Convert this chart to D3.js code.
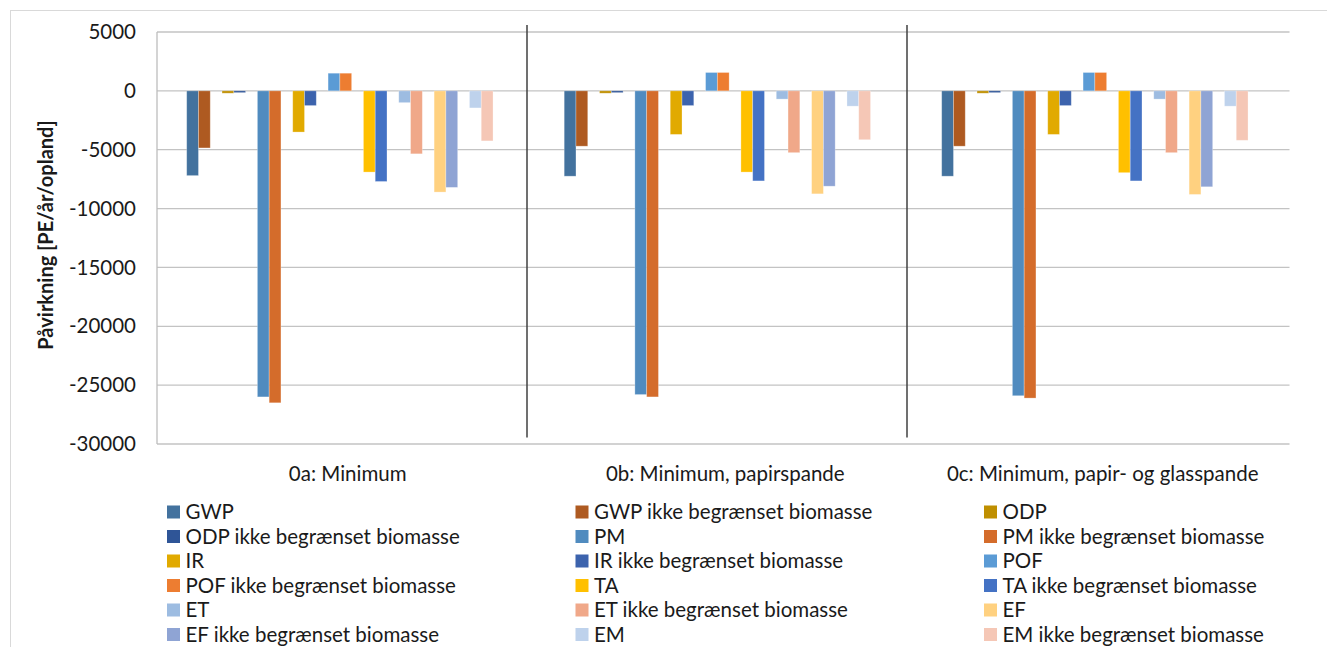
<!DOCTYPE html>
<html lang="da">
<head>
<meta charset="utf-8">
<title>Påvirkning</title>
<script src="https://d3js.org/d3.v7.min.js"></script>
<style>
  body { margin: 0; background: #fff; }
  svg text { font-family: Lato, "Open Sans", sans-serif; fill: #1a1a1a; }
  .tick-label { font-size: 20.5px; }
  .cat-label { font-size: 20.5px; }
  .legend-label { font-size: 20.5px; }
  .y-title { font-size: 20px; font-weight: bold; }
</style>
</head>
<body>
<svg id="chart" width="1327" height="647"></svg>
<script>
// categories (scenarios)
const categories = ["0a: Minimum", "0b: Minimum, papirspande", "0c: Minimum, papir- og glasspande"];

// impact series, in legend order
const series = [
  "GWP", "GWP ikke begrænset biomasse",
  "ODP", "ODP ikke begrænset biomasse",
  "PM", "PM ikke begrænset biomasse",
  "IR", "IR ikke begrænset biomasse",
  "POF", "POF ikke begrænset biomasse",
  "TA", "TA ikke begrænset biomasse",
  "ET", "ET ikke begrænset biomasse",
  "EF", "EF ikke begrænset biomasse",
  "EM", "EM ikke begrænset biomasse"
];

const colors = [
  "#43729e", "#ae5a21",
  "#bf8f00", "#2f5597",
  "#508bbf", "#d46c2b",
  "#e1aa00", "#3c63ad",
  "#5b9bd5", "#ed7d31",
  "#ffc000", "#4472c4",
  "#9dbce1", "#f0a889",
  "#ffd180", "#8fa4d4",
  "#bed2ec", "#f5c7b6"
];

// values per scenario, same order as series
const minimum     = [-7200, -4850, -200, -150, -26000, -26500, -3500, -1250, 1500, 1500, -6900, -7700, -1000, -5350, -8600, -8200, -1450, -4250];
const papir       = [-7250, -4700, -200, -150, -25800, -26000, -3700, -1250, 1560, 1560, -6900, -7650, -700, -5250, -8750, -8100, -1300, -4150];
const papirGlas   = [-7250, -4700, -200, -150, -25900, -26100, -3700, -1250, 1560, 1560, -6950, -7650, -700, -5250, -8800, -8150, -1300, -4200];
const scenarioValues = [minimum, papir, papirGlas];

const yTicks = [5000, 0, -5000, -10000, -15000, -20000, -25000, -30000];

const svg = d3.select("#chart");
const plot = { left: 157, right: 1289.5, top: 32, bottom: 444 };

// outer chart border
svg.append("rect")
  .attr("x", 10.5).attr("y", 10.5)
  .attr("width", 1340).attr("height", 660)
  .attr("fill", "none").attr("stroke", "#d9d9d9").attr("stroke-width", 1);

const x = d3.scaleBand().domain(categories).range([plot.left, plot.right]);
// each pair takes three slots (two bars and an empty one), 27 slots per group
const slotOf = i => Math.floor(i / 2) * 3 + (i % 2);
const xInner = d3.scaleBand().domain(d3.range(27)).range([0, x.bandwidth()]).paddingOuter(2.52);
const y = d3.scaleLinear().domain([-30000, 5000]).range([plot.bottom, plot.top]);

// gridlines
svg.append("g").selectAll("line").data(yTicks).join("line")
  .attr("x1", plot.left).attr("x2", plot.right)
  .attr("y1", d => y(d)).attr("y2", d => y(d))
  .attr("stroke", "#c3c3c3").attr("stroke-width", 1.3);

// left axis line
svg.append("line")
  .attr("x1", plot.left).attr("x2", plot.left)
  .attr("y1", y(5000)).attr("y2", y(-30000))
  .attr("stroke", "#bdbdbd").attr("stroke-width", 1.3);

// tick labels
svg.append("g").selectAll("text").data(yTicks).join("text")
  .attr("class", "tick-label")
  .attr("x", 136).attr("y", d => y(d))
  .attr("dy", "0.35em").attr("text-anchor", "end")
  .text(d => d);

// bars
const bars = [];
categories.forEach((c, ci) => {
  series.forEach((s, si) => bars.push({ cat: c, idx: si, value: scenarioValues[ci][si] }));
});
svg.append("g").selectAll("rect").data(bars).join("rect")
  .attr("x", d => x(d.cat) + xInner(slotOf(d.idx)))
  .attr("width", xInner.bandwidth())
  .attr("y", d => y(Math.max(0, d.value)))
  .attr("height", d => Math.abs(y(d.value) - y(0)))
  .attr("fill", d => colors[d.idx])
  .attr("stroke", "#fff").attr("stroke-opacity", 0.35).attr("stroke-width", 0.8);

// manual separators between scenarios
const sepOffsets = [-7.5, -5];
svg.append("g").selectAll("line").data(categories.slice(1)).join("line")
  .attr("x1", (d, i) => x(d) + sepOffsets[i]).attr("x2", (d, i) => x(d) + sepOffsets[i])
  .attr("y1", 25).attr("y2", 437.5)
  .attr("stroke", "#404040").attr("stroke-width", 1.5);

// category labels
svg.append("g").selectAll("text").data(categories).join("text")
  .attr("class", "cat-label")
  .attr("x", d => x(d) + x.bandwidth() / 2 + 2).attr("y", 474)
  .attr("dy", "0.35em").attr("text-anchor", "middle")
  .text(d => d);

// y title
svg.append("text")
  .attr("class", "y-title")
  .attr("transform", "translate(45.5,235) rotate(-90)")
  .attr("dy", "0.35em").attr("text-anchor", "middle")
  .text("Påvirkning [PE/år/opland]");

// legend: 3 columns, 6 rows
const legendCols = [167, 575.5, 984];
const legendY = d3.scaleLinear().domain([0, 5]).range([512, 634.5]);
const legend = svg.append("g").selectAll("g").data(series).join("g")
  .attr("transform", (d, i) => `translate(${legendCols[i % 3]},${legendY(Math.floor(i / 3))})`);
legend.append("rect")
  .attr("x", 0).attr("y", -6.5).attr("width", 13).attr("height", 13)
  .attr("fill", (d, i) => colors[i]);
legend.append("text")
  .attr("class", "legend-label")
  .attr("x", 18.5).attr("dy", "0.35em")
  .text(d => d);
</script>
</body>
</html>
